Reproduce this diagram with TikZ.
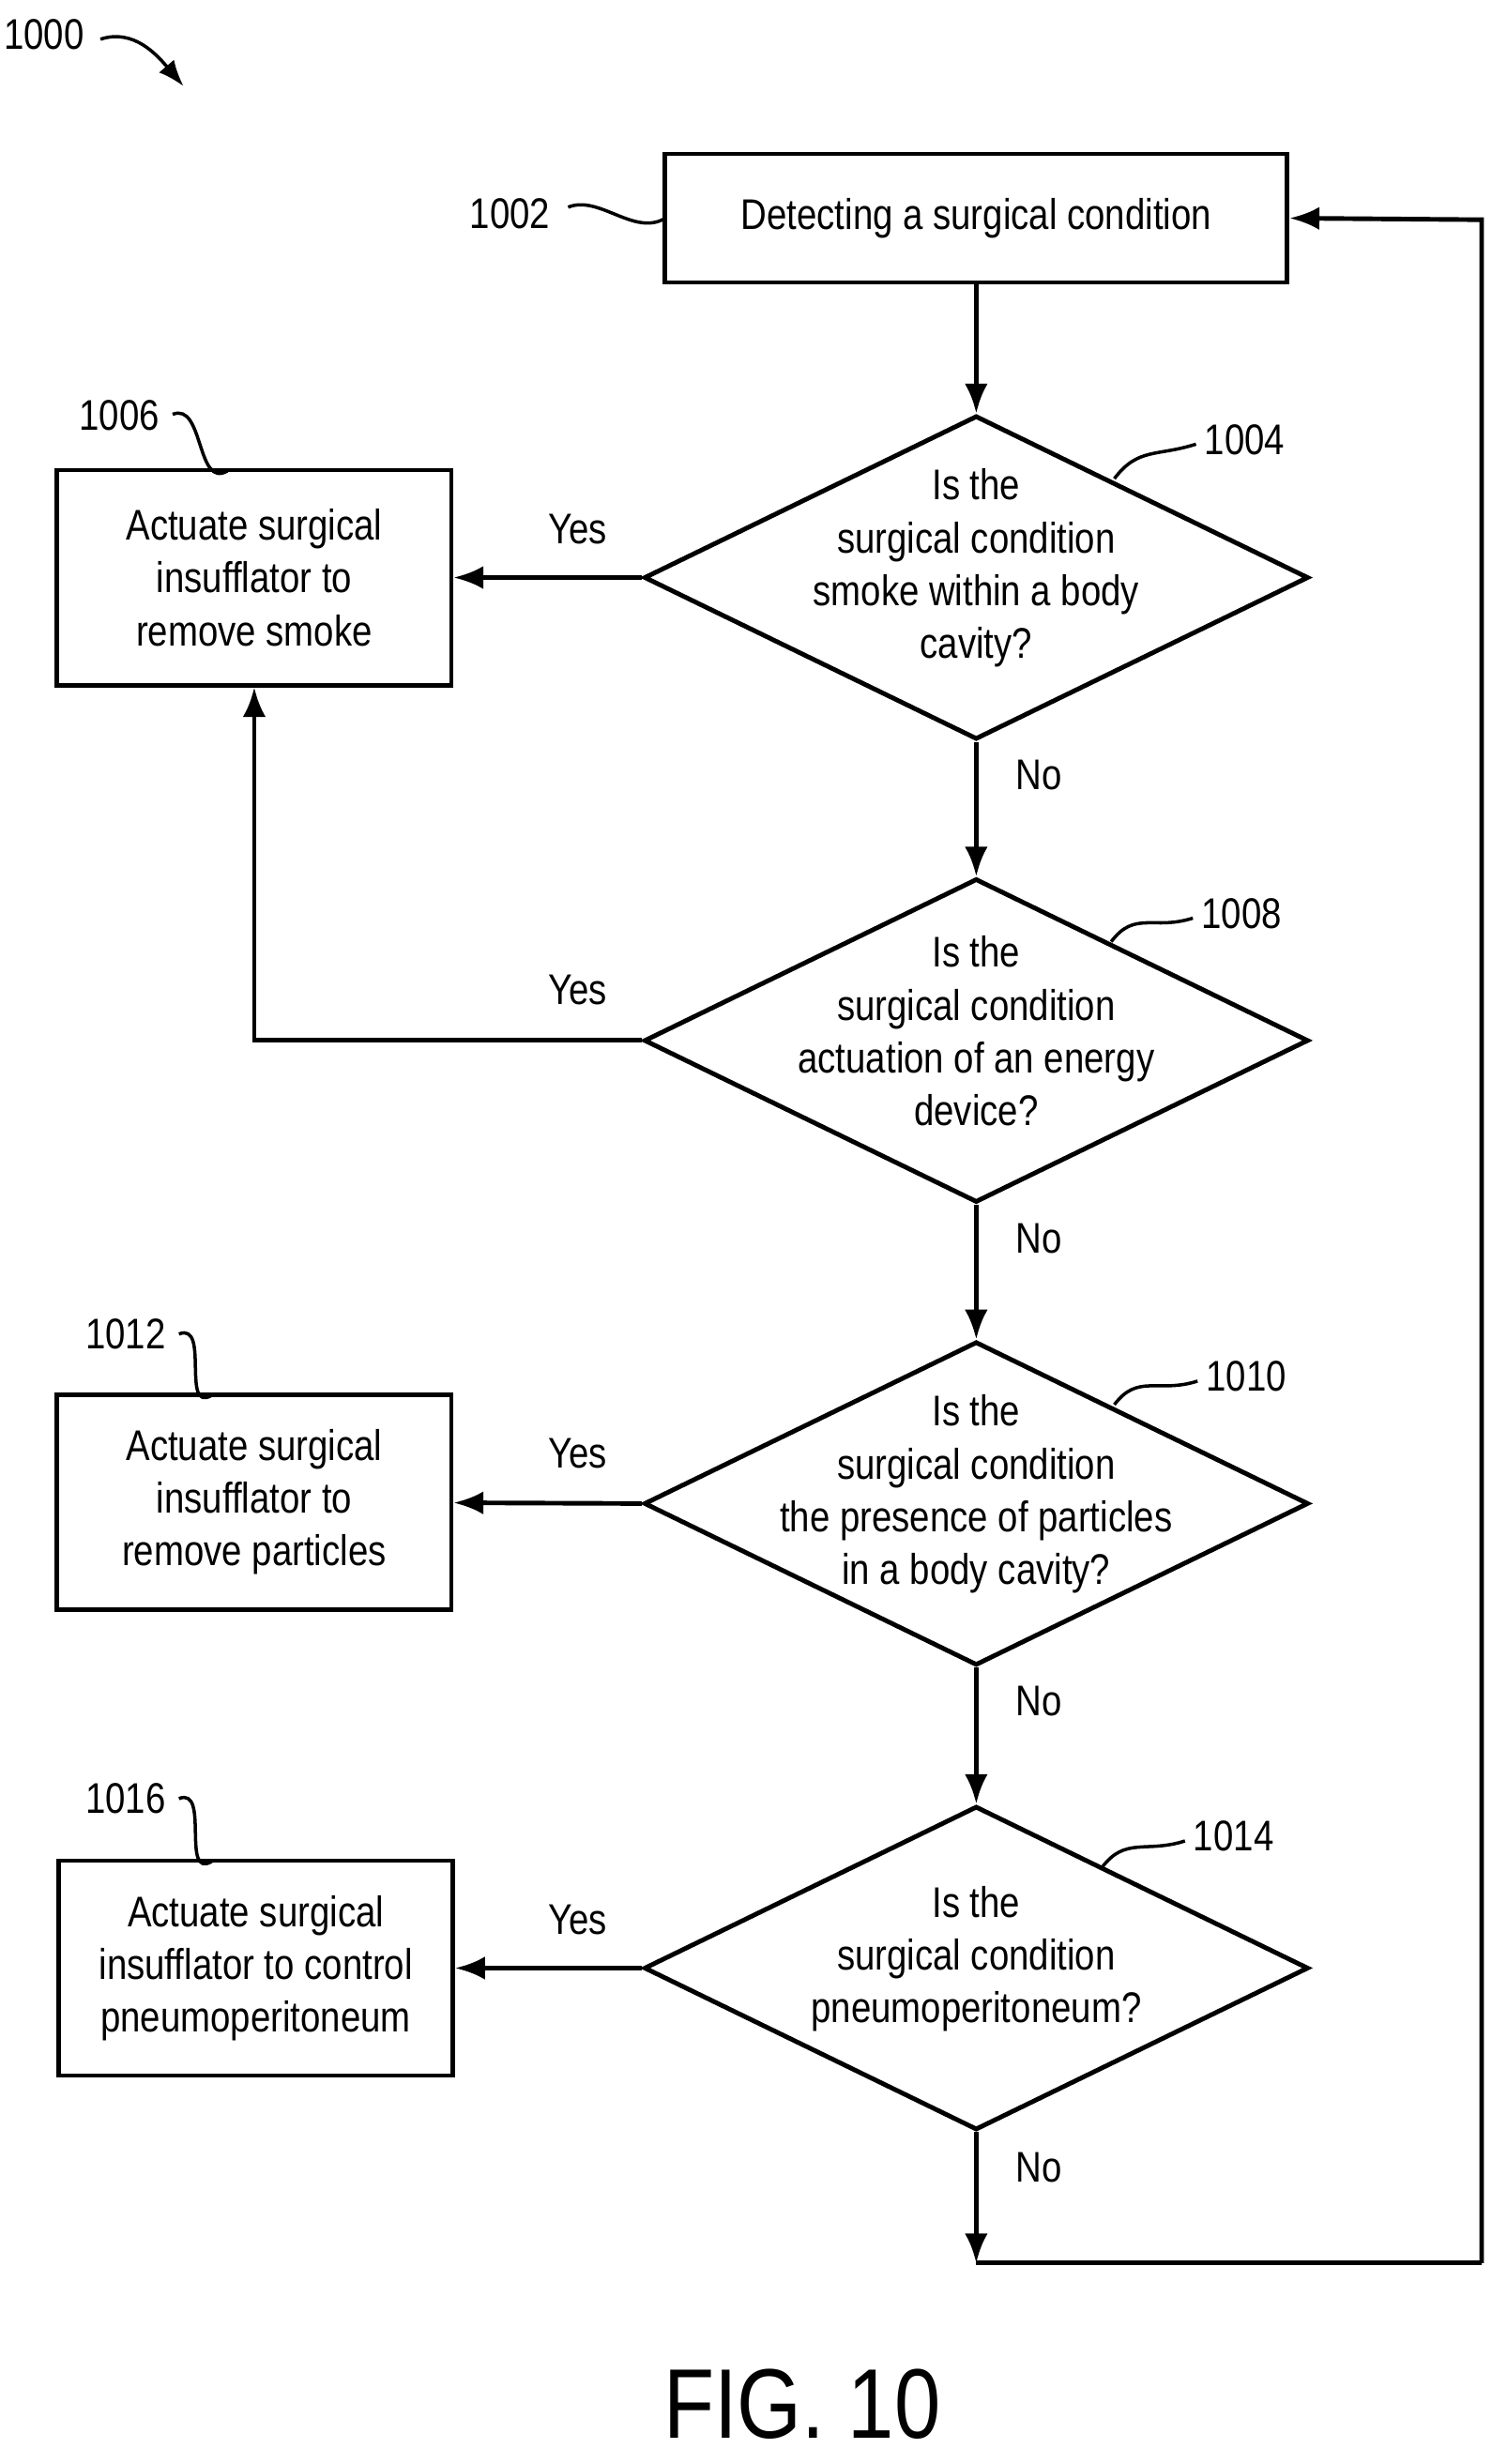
\documentclass[tikz,border=0pt]{standalone}
\usepackage{fontspec}
\setmainfont[FakeStretch=0.84]{Liberation Sans}
\usetikzlibrary{shapes.geometric,arrows.meta}

\begin{document}
\begin{tikzpicture}[x=0.01673cm,y=-0.01673cm,
    line width=1.4pt,
    txt/.style={font=\fontsize{13}{16}\selectfont, align=center, inner sep=0pt},
    action/.style={rectangle, draw, minimum width=4.2cm, minimum height=2.29cm, txt},
    test/.style={diamond, draw, minimum width=7.08cm, minimum height=3.45cm, inner sep=0pt},
    flow/.style={-{Latex[length=9pt,width=7pt]}},
    squig/.style={line width=1pt}]
\useasboundingbox (0,0) rectangle (960,1570);

% Constants
\def\colMid{622} % x of the decision column
\def\colLeft{162} % x of the action boxes

% Start box
\node[rectangle, draw, minimum width=6.63cm, minimum height=1.37cm, txt] (detect) at (\colMid,139) {Detecting a surgical condition};

% Decisions
\foreach \name/\y/\label in {
    smoke/368/{Is the\\surgical condition\\smoke within a body\\cavity?},
    energy/663/{Is the\\surgical condition\\actuation of an energy\\device?},
    particles/958/{Is the\\surgical condition\\the presence of particles\\in a body cavity?},
    pneumo/1254/{Is the\\surgical condition\\pneumoperitoneum?}} {
    \node[test] (\name) at (\colMid,\y) {};
    \node[txt] (\name-text) at (\colMid,\y-6) {\label};
}

% Action boxes
\node[action] (rmsmoke) at (\colLeft,368) {Actuate surgical\\insufflator to\\remove smoke};
\node[action] (rmparticles) at (\colLeft,957) {Actuate surgical\\insufflator to\\remove particles};
\node[action] (ctrlpneumo) at (163,1254) {Actuate surgical\\insufflator to control\\pneumoperitoneum};

% No branch down the middle
\draw[flow] (detect) -- (smoke);
\draw[flow] (smoke) -- (energy);
\draw[flow] (energy) -- (particles);
\draw[flow] (particles) -- (pneumo);
\foreach \y in {494,789,1084,1381}
    \node[txt] at (662,\y) {No};

% Yes branches
\draw[flow] (smoke.west) -- (rmsmoke);
\draw[flow] (energy.west) -- (\colLeft,663) -- (rmsmoke);
\draw[flow] (particles.west) -- (rmparticles);
\draw[flow] (pneumo.west) -- (ctrlpneumo);
\foreach \y in {337,631,926,1223}
    \node[txt] at (368,\y) {Yes};

% Loop back
\coordinate (loop-a) at (\colMid,1442);
\coordinate (loop-b) at (944,1442);
\coordinate (loop-c) at (944,140);
\draw[flow] (pneumo.south) -- (loop-a);
\draw (loop-a) -- (loop-b);
\draw[flow] (loop-b) -- (loop-c) -- (detect.east);

% Reference numbers
\node[txt] (ref1000) at (28,22) {1000};
\draw[squig, -{Latex[length=8pt,width=6pt]}] (64,25) .. controls (85,18) and (100,35) .. (117,55);
\foreach \ref/\x/\y/\ax/\ay/\bx/\by in {
    1002/325/136/362/132/424/139,
    1006/76/265/110/264/145/300,
    1012/80/850/114/850/135/889,
    1016/80/1146/114/1146/135/1186} {
    \node[txt] (ref\ref) at (\x,\y) {\ref};
    \draw[squig] (\ax,\ay) .. controls (\ax+20,\ay-8) and (\bx-20,\by+12) .. (\bx,\by);
}
\foreach \ref/\x/\y/\ax/\ay/\bx/\by in {
    1004/793/280/710/305/762/283,
    1008/791/582/708/600/760/585,
    1010/794/877/710/895/763/880,
    1014/786/1170/702/1190/755/1173} {
    \node[txt] (ref\ref) at (\x,\y) {\ref};
    \draw[squig] (\ax,\ay) .. controls (\ax+15,\ay-20) and (\bx-25,\by+8) .. (\bx,\by);
}

% Figure caption
\node[font=\fontsize{30}{34}\selectfont, inner sep=0pt] (caption) at (511,1532) {FIG. 10};
\end{tikzpicture}
\end{document}
